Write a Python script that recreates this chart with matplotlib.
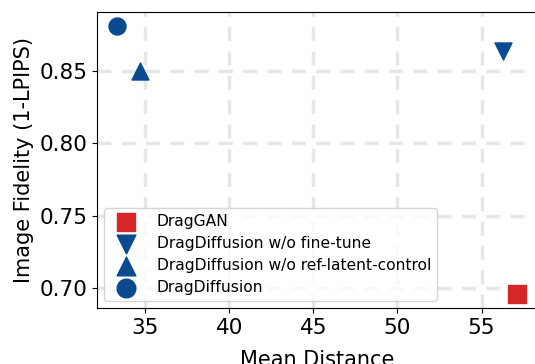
import matplotlib
matplotlib.use("Agg")
import matplotlib.pyplot as plt

methods = ["DragGAN", "DragDiffusion w/o fine-tune",
           "DragDiffusion w/o ref-latent-control", "DragDiffusion"]
mean_distance = [57.1, 56.3, 34.7, 33.3]
fidelity = [0.696, 0.864, 0.850, 0.881]
markers = ["s", "v", "^", "o"]
colors = ["#d62728", "#0b4a8f", "#0b4a8f", "#0b4a8f"]

fig = plt.figure(figsize=(5.35, 3.64), dpi=100)
ax = fig.add_axes([97 / 535, 1 - 308 / 364, 440 / 535, 296 / 364])

for m, x, y, mk, c in zip(methods, mean_distance, fidelity, markers, colors):
    ax.scatter(x, y, marker=mk, s=150, color=c, label=m, zorder=3)

ax.set_xlim(32.13, 58.3)
ax.set_ylim(0.686, 0.891)
ax.set_xticks([35, 40, 45, 50, 55])
ax.set_yticks([0.70, 0.75, 0.80, 0.85])
ax.grid(True, linestyle="--", linewidth=2.5, color="#e6e6e6", dashes=(4, 3))
ax.set_axisbelow(True)
ax.tick_params(labelsize=15.5)
ax.set_xlabel("Mean Distance", fontsize=15, labelpad=9)
ax.set_ylabel("Image Fidelity (1-LPIPS)", fontsize=15)
ax.legend(loc="lower left", fontsize=11.2, handletextpad=1.0, markerscale=1.1,
          borderaxespad=0.45, labelspacing=0.45)

fig.savefig("out.png", dpi=100)
